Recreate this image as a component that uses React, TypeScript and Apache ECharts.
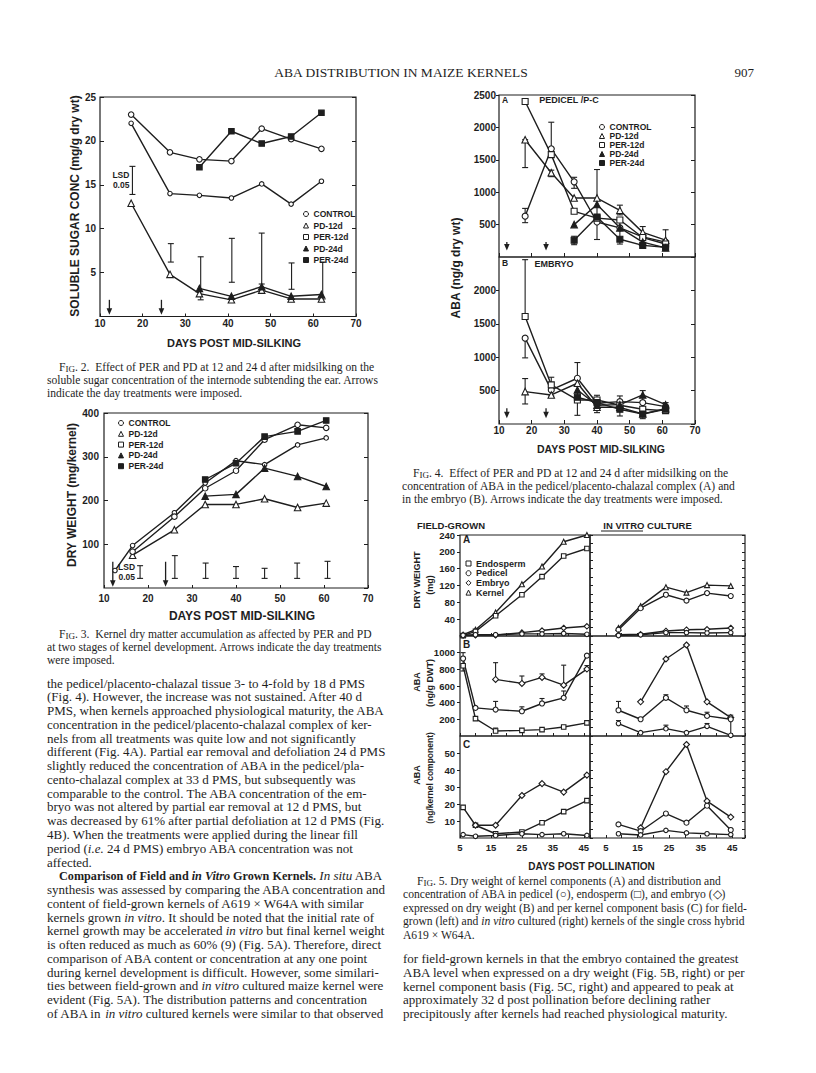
import React, { useEffect, useRef } from "react";
import * as echarts from "echarts";

const W = 816;
const H = 1073;
const INK = "#1e1e1e";
const SANS = "'Liberation Sans', Arial, Helvetica, sans-serif";
const SERIF = "'Liberation Serif', 'Times New Roman', Times, serif";

// ===== Fig. 2 : soluble sugar concentration (mg/g dry wt) =====
const f2Days = [17.3, 26.4, 33.3, 40.8, 47.9, 54.8, 61.9];
const f2Days24 = [33.3, 40.8, 47.9, 54.8, 61.9];
const f2Control = [22.0, 14.0, 13.8, 13.5, 15.1, 12.8, 15.4];
const f2PD12 = [12.9, 4.8, 2.6, 1.9, 3.0, 2.0, 2.0];
const f2PER12 = [23.0, 18.7, 17.9, 17.7, 21.4, 20.2, 19.1];
const f2PD24 = [3.2, 2.3, 3.4, 2.3, 2.5];
const f2PER24 = [17.0, 21.1, 19.7, 20.5, 23.2];
const f2LsdDays = [17.6, 26.6, 33.6, 40.9, 47.9, 54.9, 62.2];
const f2LsdLow = [13.9, 6.2, 1.9, 3.9, 3.7, 3.1, 2.0];
const f2LsdHigh = [17.1, 8.3, 6.8, 8.9, 9.5, 6.1, 6.2];
const f2ArrowDays = [12.2, 24.4];
const f2ArrowSpan = [1.9, 0.2];

// ===== Fig. 3 : kernel dry weight (mg/kernel) =====
const f3ControlDays = [12.5, 16.5, 26, 33, 40, 46.5, 54, 60.5];
const f3Control = [40, 97, 172, 240, 291, 282, 327, 343];
const f3Days = [16.5, 26, 33, 40, 46.5, 54, 60.5];
const f3PD12 = [75, 133, 191, 191, 204, 184, 194];
const f3PER12 = [83, 163, 228, 268, 339, 373, 366];
const f3Days24 = [33, 40, 46.5, 54, 60.5];
const f3PD24 = [210, 214, 274, 255, 232];
const f3PER24 = [248, 285, 346, 358, 383];
const f3LsdDays = [18.2, 26.1, 33.1, 40, 46.5, 53.9, 60.8];
const f3LsdLow = [22, 22, 22, 22, 22, 22, 22];
const f3LsdHigh = [51, 74, 57, 49, 45, 57, 61];
const f3ArrowDays = [12, 24];
const f3ArrowSpan = [60, 3];

// ===== Fig. 4A : ABA pedicel / P-C (ng/g dry wt) =====
const f4aDays = [18, 26, 33, 40, 47, 54, 61];
const f4aDays24 = [33, 40, 47, 54, 61];
const f4aControl = [630, 1670, 1160, 540, 450, 310, 230];
const f4aPD12 = [1810, 1300, 910, 910, 720, 380, 260];
const f4aPER12 = [2400, 1580, 705, 600, 570, 300, 200];
const f4aPD24 = [500, 810, 450, 230, 140];
const f4aPER24 = [258, 617, 274, 180, 150];
const f4aErrDays = [18, 18, 26, 26, 33, 33, 40, 47, 47, 54, 61];
const f4aErrLow = [530, 1380, 1670, 1240, 1060, 190, 270, 650, 200, 300, 130];
const f4aErrHigh = [750, 1810, 2080, 1340, 1230, 320, 1350, 800, 570, 470, 420];
const f4ArrowDays = [12.4, 24.4];
const f4aArrowSpan = [232, 100];

// ===== Fig. 4B : ABA embryo (ng/g dry wt) =====
const f4bDays = [18, 26, 34, 40, 47, 54, 61];
const f4bDays24 = [34, 40, 47, 54, 61];
const f4bControl = [1285, 510, 685, 310, 335, 320, 260];
const f4bPD12 = [485, 435, 610, 250, 250, 150, 230];
const f4bPER12 = [1610, 585, 360, 360, 280, 220, 200];
const f4bPD24 = [510, 280, 290, 435, 290];
const f4bPER24 = [400, 320, 220, 150, 220];
const f4bErrDays = [18, 18, 18, 26, 34, 40, 47, 54, 61];
const f4bErrLow = [1610, 990, 300, 420, 130, 170, 120, 80, 200];
const f4bErrHigh = [2460, 1285, 680, 700, 920, 430, 420, 500, 320];
const f4bArrowSpan = [235, 85];

// ===== Fig. 5 : field-grown (left) and in vitro (right) =====
const f5FieldDays = [6, 10, 16.5, 25, 31.5, 38.5, 46];
const f5VitroDays = [9, 16, 24, 30.5, 37, 44.5];
// A: dry weight (mg)
const f5aFieldKernel = [3, 15, 56, 123, 165, 224, 240];
const f5aFieldEndo = [1, 11, 48, 98, 141, 190, 208];
const f5aFieldEmbryo = [1, 2, 2, 8, 13, 19, 23];
const f5aFieldPedicel = [2, 3, 3, 5, 5, 6, 4];
const f5aVitroKernel = [19, 71, 116, 103, 121, 119];
const f5aVitroEndo = [15, 66, 98, 84, 102, 95];
const f5aVitroEmbryo = [3, 4, 12, 15, 16, 19];
const f5aVitroPedicel = [1, 3, 8, 8, 7, 8];
// B: ABA (ng/g DWT)
const f5bFieldPedicel = [930, 337, 317, 297, 390, 458, 964];
const f5bFieldEndo = [843, 209, 60, 68, 76, 108, 157];
const f5bFieldEmbryoDays = [16.5, 25, 31.5, 38.5, 46];
const f5bFieldEmbryo = [679, 631, 703, 610, 803];
const f5bFieldErrDays = [6, 16.5, 25, 31.5, 38.5, 46, 16.5, 25, 31.5, 38.5, 16.5];
const f5bFieldErrLow = [780, 679, 631, 703, 610, 803, 317, 297, 390, 458, 60];
const f5bFieldErrHigh = [1000, 880, 720, 745, 850, 845, 415, 350, 450, 540, 95];
const f5bVitroEmbryoDays = [16, 24, 30.5, 37, 44.5];
const f5bVitroEmbryo = [410, 924, 1092, 410, 221];
const f5bVitroPedicel = [309, 201, 458, 309, 241, 201];
const f5bVitroEndo = [149, 40, 88, 40, 116, 8];
const f5bVitroErrDays = [9, 24, 30.5, 37, 44.5, 9, 24, 37];
const f5bVitroErrLow = [309, 458, 309, 241, 8, 149, 88, 116];
const f5bVitroErrHigh = [415, 495, 360, 285, 250, 185, 130, 150];
// C: ABA (ng/kernel component)
const f5cFieldEndo = [18, 7.5, 2.5, 3.5, 9, 15.5, 22];
const f5cFieldEmbryoDays = [10, 16.5, 25, 31.5, 38.5, 46];
const f5cFieldEmbryo = [7.5, 7.5, 25, 32, 27, 37];
const f5cFieldPedicel = [2, 1, 1.5, 2.5, 2, 2.5, 1.5];
const f5cVitroEmbryoDays = [16, 24, 30.5, 37, 44.5];
const f5cVitroEmbryo = [6, 39, 55, 21.7, 12.3];
const f5cVitroEndo = [8, 4, 14.4, 9, 19, 4.7];
const f5cVitroPedicel = [2.5, 1.8, 4.5, 3, 2.5, 2];

const treatments = ["CONTROL", "PD-12d", "PER-12d", "PD-24d", "PER-24d"];
const components = ["Endosperm", "Pedicel", "Embryo", "Kernel"];

// ===== Text =====
const header = "ABA DISTRIBUTION IN MAIZE KERNELS";
const pageNo = "907";
const fig2Caption = [
  "F{sc|IG}. 2.  Effect of PER and PD at 12 and 24 d after midsilking on the",
  "soluble sugar concentration of the internode subtending the ear. Arrows",
  "indicate the day treatments were imposed.",
];
const fig3Caption = [
  "F{sc|IG}. 3.  Kernel dry matter accumulation as affected by PER and PD",
  "at two stages of kernel development. Arrows indicate the day treatments",
  "were imposed.",
];
const fig4Caption = [
  "F{sc|IG}. 4.  Effect of PER and PD at 12 and 24 d after midsilking on the",
  "concentration of ABA in the pedicel/placento-chalazal complex (A) and",
  "in the embryo (B). Arrows indicate the day treatments were imposed.",
];
const fig5Caption = [
  "F{sc|IG}. 5. Dry weight of kernel components (A) and distribution and",
  "concentration of ABA in pedicel (○), endosperm (□), and embryo (◇)",
  "expressed on dry weight (B) and per kernel component basis (C) for field-",
  "grown (left) and {i|in vitro} cultured (right) kernels of the single cross hybrid",
  "A619 × W64A.",
];
const leftBody = [
  "the pedicel/placento-chalazal tissue 3- to 4-fold by 18 d PMS",
  "(Fig. 4). However, the increase was not sustained. After 40 d",
  "PMS, when kernels approached physiological maturity, the ABA",
  "concentration in the pedicel/placento-chalazal complex of ker-",
  "nels from all treatments was quite low and not significantly",
  "different (Fig. 4A). Partial ear removal and defoliation 24 d PMS",
  "slightly reduced the concentration of ABA in the pedicel/pla-",
  "cento-chalazal complex at 33 d PMS, but subsequently was",
  "comparable to the control. The ABA concentration of the em-",
  "bryo was not altered by partial ear removal at 12 d PMS, but",
  "was decreased by 61% after partial defoliation at 12 d PMS (Fig.",
  "4B). When the treatments were applied during the linear fill",
  "period ({i|i.e.} 24 d PMS) embryo ABA concentration was not",
  "affected.",
  "{b|Comparison of Field and }{bi|in Vitro}{b| Grown Kernels.} {i|In situ} ABA",
  "synthesis was assessed by comparing the ABA concentration and",
  "content of field-grown kernels of A619 × W64A with similar",
  "kernels grown {i|in vitro}. It should be noted that the initial rate of",
  "kernel growth may be accelerated {i|in vitro} but final kernel weight",
  "is often reduced as much as 60% (9) (Fig. 5A). Therefore, direct",
  "comparison of ABA content or concentration at any one point",
  "during kernel development is difficult. However, some similari-",
  "ties between field-grown and {i|in vitro} cultured maize kernel were",
  "evident (Fig. 5A). The distribution patterns and concentration",
  "of ABA in {i|in vitro} cultured kernels were similar to that observed",
];
const rightBody = [
  "for field-grown kernels in that the embryo contained the greatest",
  "ABA level when expressed on a dry weight (Fig. 5B, right) or per",
  "kernel component basis (Fig. 5C, right) and appeared to peak at",
  "approximately 32 d post pollination before declining rather",
  "precipitously after kernels had reached physiological maturity.",
];

// ===== layout =====
const GRIDS = [
  { left: 100, top: 97, width: 256, height: 219.5 }, // 0 Fig 2
  { left: 104, top: 413, width: 264, height: 175 }, // 1 Fig 3
  { left: 499, top: 95, width: 196, height: 162 }, // 2 Fig 4A
  { left: 499, top: 257, width: 196, height: 167 }, // 3 Fig 4B
  { left: 460, top: 535, width: 130, height: 101 }, // 4 Fig 5A field
  { left: 460, top: 636, width: 130, height: 100 }, // 5 Fig 5B field
  { left: 460, top: 736, width: 130, height: 102 }, // 6 Fig 5C field
  { left: 590, top: 535, width: 155, height: 101 }, // 7 Fig 5A vitro
  { left: 590, top: 636, width: 155, height: 100 }, // 8 Fig 5B vitro
  { left: 590, top: 736, width: 155, height: 102 }, // 9 Fig 5C vitro
];

const tickLine = { color: INK, width: 1 };
const labelFont = (fs: number) => ({ color: INK, fontFamily: SANS, fontWeight: "bold", fontSize: fs });
const plain = (v: number) => String(v);

function xAx(g: number, min: number, max: number, interval: number, o: any = {}) {
  return {
    type: "value", gridIndex: g, min, max, interval,
    axisLine: { show: false }, splitLine: { show: false },
    axisTick: { show: true, inside: true, length: o.tickLen ?? 4, lineStyle: tickLine },
    axisLabel: o.labels
      ? { show: true, ...labelFont(o.fs ?? 10), margin: o.margin ?? 4, formatter: o.fmt ?? plain, showMinLabel: true, showMaxLabel: true }
      : { show: false },
  };
}
function yAx(g: number, min: number, max: number, interval: number, o: any = {}) {
  return {
    type: "value", gridIndex: g, min, max, interval, position: o.right ? "right" : "left",
    axisLine: { show: false }, splitLine: { show: false },
    axisTick: { show: o.ticks ?? true, inside: !o.tickOut, length: o.tickLen ?? 4, lineStyle: tickLine },
    axisLabel: o.labels
      ? { show: true, ...labelFont(o.fs ?? 10), margin: o.margin ?? 4, formatter: plain, showMinLabel: false, showMaxLabel: !o.hideMax }
      : { show: false },
  };
}
const oddFive = (v: number) => (Math.round(v) % 10 === 5 ? String(Math.round(v)) : "");

function pts(xs: number[], ys: number[]) {
  return xs.map((x, i) => [x, ys[i]]);
}
function line(name: string, g: number, xs: number[], ys: number[], symbol: string, filled: boolean, size = 5) {
  return {
    type: "line", name, xAxisIndex: g, yAxisIndex: 2 * g, data: pts(xs, ys),
    symbol, symbolSize: size, showSymbol: true, silent: true, z: 3,
    lineStyle: { color: INK, width: 1.4 },
    itemStyle: { color: filled ? INK : "#ffffff", borderColor: INK, borderWidth: 1.1 },
    emphasis: { disabled: true },
  };
}
function errBars(g: number, xs: number[], lo: number[], hi: number[], o: any = {}) {
  const cap = o.cap ?? 3;
  return {
    type: "custom", xAxisIndex: g, yAxisIndex: 2 * g, silent: true, z: 2,
    data: xs.map((x, i) => [x, lo[i], hi[i]]),
    encode: { x: 0, y: [1, 2] },
    renderItem: (params: any, api: any) => {
      const x = api.value(0);
      const a = api.coord([x, api.value(1)]);
      const b = api.coord([x, api.value(2)]);
      const st = () => ({ stroke: INK, lineWidth: o.lw ?? 1.1, fill: null });
      const children: any[] = [
        { type: "line", shape: { x1: a[0], y1: a[1], x2: b[0], y2: b[1] }, style: st() },
        { type: "line", shape: { x1: a[0] - cap, y1: a[1], x2: a[0] + cap, y2: a[1] }, style: st() },
        { type: "line", shape: { x1: b[0] - cap, y1: b[1], x2: b[0] + cap, y2: b[1] }, style: st() },
      ];
      if (o.label && params.dataIndex === 0) {
        children.push({
          type: "text", x: a[0] - (o.labelGap ?? 4), y: (a[1] + b[1]) / 2,
          style: {
            text: o.label, fill: INK, fontFamily: SANS, fontWeight: "bold", fontSize: o.labelSize ?? 8.5,
            lineHeight: o.labelLH ?? 10, align: "right", verticalAlign: "middle",
          },
        });
      }
      return { type: "group", children };
    },
  };
}
function arrows(g: number, xs: number[], span: number[]) {
  return {
    type: "custom", xAxisIndex: g, yAxisIndex: 2 * g, silent: true, z: 2,
    data: xs.map((x) => [x, span[0], span[1]]),
    encode: { x: 0, y: [1, 2] },
    renderItem: (params: any, api: any) => {
      const x = api.value(0);
      const a = api.coord([x, api.value(1)]);
      const b = api.coord([x, api.value(2)]);
      return {
        type: "group",
        children: [
          { type: "line", shape: { x1: a[0], y1: a[1], x2: b[0], y2: b[1] - 4 }, style: { stroke: INK, lineWidth: 1.3 } },
          { type: "polygon", shape: { points: [[b[0] - 2.8, b[1] - 6.5], [b[0] + 2.8, b[1] - 6.5], [b[0], b[1]]] }, style: { fill: INK } },
        ],
      };
    },
  };
}

function legendItem(name: string, icon: string, filled: boolean) {
  return { name, icon, itemStyle: { color: filled ? INK : "#ffffff", borderColor: INK, borderWidth: 1 } };
}
const treatIcons: [string, boolean][] = [["circle", false], ["triangle", false], ["rect", false], ["triangle", true], ["rect", true]];
function treatLegend(left: number, top: number, lh: number, gap: number, fs: number, icon: number) {
  return {
    show: true, orient: "vertical", left, top, padding: 0, itemGap: gap, itemWidth: icon, itemHeight: icon,
    selectedMode: false,
    textStyle: { fontSize: fs, fontFamily: SANS, fontWeight: "bold", color: INK, lineHeight: lh },
    data: treatments.map((t, i) => legendItem(t, treatIcons[i][0], treatIcons[i][1])),
  };
}

function T(text: string, x: number, y: number, o: any = {}) {
  return {
    type: "text", x, y, rotation: o.rot ?? 0, silent: true, z: 20,
    style: {
      text, fill: INK, fontFamily: o.ff ?? SANS, fontSize: o.fs ?? 10, fontWeight: o.fw ?? "bold",
      fontStyle: o.fst ?? "normal",
      align: o.align ?? "center", verticalAlign: "middle", rich: o.rich, lineHeight: o.lh,
    },
  };
}

const CAP_FS = 11.6;
const BODY_FS = 13;
const BOLD_FS = 12.2;
const capRich = {
  sc: { fontSize: CAP_FS * 0.78, fontFamily: SERIF, fill: INK, verticalAlign: "bottom" },
  i: { fontSize: CAP_FS, fontFamily: SERIF, fontStyle: "italic", fill: INK },
};
const bodyRich = {
  i: { fontSize: BODY_FS, fontFamily: SERIF, fontStyle: "italic", fill: INK },
  b: { fontSize: BOLD_FS, fontFamily: SERIF, fontWeight: "bold", fill: INK },
  bi: { fontSize: BOLD_FS, fontFamily: SERIF, fontWeight: "bold", fontStyle: "italic", fill: INK },
};
const capLine = (text: string, x: number, y: number) =>
  T(text, x, y, { ff: SERIF, fs: CAP_FS, fw: "normal", align: "left", rich: capRich });
const bodyLine = (text: string, x: number, y: number) =>
  T(text, x, y, { ff: SERIF, fs: BODY_FS, fw: "normal", align: "left", rich: bodyRich });

function buildOption() {
  const PI2 = Math.PI / 2;
  const xAxis = [
    xAx(0, 10, 70, 10, { labels: true, margin: 2, fs: 10, tickLen: 3 }),
    xAx(1, 10, 70, 10, { labels: true, margin: 5, fs: 10, tickLen: 3 }),
    xAx(2, 10, 70, 10, {}),
    xAx(3, 10, 70, 10, { labels: true, margin: 1, fs: 10 }),
    xAx(4, 5, 47, 5, { tickLen: 3 }),
    xAx(5, 5, 47, 5, { tickLen: 3 }),
    xAx(6, 5, 47, 5, { labels: true, margin: 4, fs: 9.5, fmt: oddFive, tickLen: 3 }),
    xAx(7, 0, 49, 5, { tickLen: 3 }),
    xAx(8, 0, 49, 5, { tickLen: 3 }),
    xAx(9, 0, 49, 5, { labels: true, margin: 4, fs: 9.5, fmt: oddFive, tickLen: 3 }),
  ];
  const yAxis = [
    yAx(0, 0, 25, 5, { labels: true, margin: 4, fs: 10 }), yAx(0, 0, 25, 5, { right: true }),
    yAx(1, 0, 400, 100, { labels: true, margin: 5, fs: 10 }), yAx(1, 0, 400, 100, { right: true }),
    yAx(2, 0, 2500, 500, { labels: true, margin: 3, fs: 10, tickOut: true, tickLen: 3 }), yAx(2, 0, 2500, 500, { right: true }),
    yAx(3, 0, 2500, 500, { labels: true, margin: 3, fs: 10, tickOut: true, tickLen: 3, hideMax: true }), yAx(3, 0, 2500, 500, { right: true }),
    yAx(4, 0, 240, 40, { labels: true, margin: 5, fs: 9.5, tickOut: true, tickLen: 3 }), yAx(4, 0, 240, 40, { right: true, ticks: false }),
    yAx(5, 0, 1200, 200, { labels: true, margin: 5, fs: 9.5, tickOut: true, tickLen: 3, hideMax: true }), yAx(5, 0, 1200, 200, { right: true, ticks: false }),
    yAx(6, 0, 60, 10, { labels: true, margin: 5, fs: 9.5, tickOut: true, tickLen: 3, hideMax: true }), yAx(6, 0, 60, 10, { right: true, ticks: false }),
    yAx(7, 0, 240, 20, { tickLen: 3 }), yAx(7, 0, 240, 20, { right: true, tickLen: 3 }),
    yAx(8, 0, 1200, 100, { tickLen: 3 }), yAx(8, 0, 1200, 100, { right: true, tickLen: 3 }),
    yAx(9, 0, 60, 5, { tickLen: 3 }), yAx(9, 0, 60, 5, { right: true, tickLen: 3 }),
  ];

  const [C, PD12, PER12, PD24, PER24] = treatments;
  const [ENDO, PED, EMB, KER] = components;
  const series: any[] = [
    // Fig 2
    errBars(0, f2LsdDays, f2LsdLow, f2LsdHigh, { label: "LSD\n0.05", labelGap: 3, cap: 3 }),
    arrows(0, f2ArrowDays, f2ArrowSpan),
    line(C, 0, f2Days, f2Control, "circle", false, 4.5),
    line(PD12, 0, f2Days, f2PD12, "triangle", false, 6.5),
    line(PER12, 0, f2Days, f2PER12, "circle", false, 5.5),
    line(PD24, 0, f2Days24, f2PD24, "triangle", true, 6.5),
    line(PER24, 0, f2Days24, f2PER24, "rect", true, 5.5),
    // Fig 3
    errBars(1, f3LsdDays, f3LsdLow, f3LsdHigh, { label: "LSD\n0.05", labelGap: 5, cap: 3 }),
    arrows(1, f3ArrowDays, f3ArrowSpan),
    line(C, 1, f3ControlDays, f3Control, "circle", false, 4.5),
    line(PD12, 1, f3Days, f3PD12, "triangle", false, 6.5),
    line(PER12, 1, f3Days, f3PER12, "circle", false, 5.5),
    line(PD24, 1, f3Days24, f3PD24, "triangle", true, 6.5),
    line(PER24, 1, f3Days24, f3PER24, "rect", true, 5.5),
    // Fig 4A
    errBars(2, f4aErrDays, f4aErrLow, f4aErrHigh, { cap: 3 }),
    arrows(2, f4ArrowDays, f4aArrowSpan),
    line(C, 2, f4aDays, f4aControl, "circle", false, 6),
    line(PD12, 2, f4aDays, f4aPD12, "triangle", false, 6.5),
    line(PER12, 2, f4aDays, f4aPER12, "rect", false, 6),
    line(PD24, 2, f4aDays24, f4aPD24, "triangle", true, 6.5),
    line(PER24, 2, f4aDays24, f4aPER24, "rect", true, 6),
    // Fig 4B
    errBars(3, f4bErrDays, f4bErrLow, f4bErrHigh, { cap: 3 }),
    arrows(3, f4ArrowDays, f4bArrowSpan),
    line(C, 3, f4bDays, f4bControl, "circle", false, 6),
    line(PD12, 3, f4bDays, f4bPD12, "triangle", false, 6.5),
    line(PER12, 3, f4bDays, f4bPER12, "rect", false, 6),
    line(PD24, 3, f4bDays24, f4bPD24, "triangle", true, 6.5),
    line(PER24, 3, f4bDays24, f4bPER24, "rect", true, 6),
    // Fig 5A
    line(KER, 4, f5FieldDays, f5aFieldKernel, "triangle", false, 5),
    line(ENDO, 4, f5FieldDays, f5aFieldEndo, "rect", false, 4.5),
    line(EMB, 4, f5FieldDays, f5aFieldEmbryo, "diamond", false, 5.5),
    line(PED, 4, f5FieldDays, f5aFieldPedicel, "circle", false, 4.5),
    line(KER, 7, f5VitroDays, f5aVitroKernel, "triangle", false, 5),
    line(ENDO, 7, f5VitroDays, f5aVitroEndo, "circle", false, 5),
    line(EMB, 7, f5VitroDays, f5aVitroEmbryo, "diamond", false, 5.5),
    line(PED, 7, f5VitroDays, f5aVitroPedicel, "circle", false, 4.5),
    // Fig 5B
    errBars(5, f5bFieldErrDays, f5bFieldErrLow, f5bFieldErrHigh, { cap: 2.5 }),
    line(PED, 5, f5FieldDays, f5bFieldPedicel, "circle", false, 5),
    line(ENDO, 5, f5FieldDays, f5bFieldEndo, "rect", false, 4.5),
    line(EMB, 5, f5bFieldEmbryoDays, f5bFieldEmbryo, "diamond", false, 6),
    errBars(8, f5bVitroErrDays, f5bVitroErrLow, f5bVitroErrHigh, { cap: 2.5 }),
    line(EMB, 8, f5bVitroEmbryoDays, f5bVitroEmbryo, "diamond", false, 6),
    line(PED, 8, f5VitroDays, f5bVitroPedicel, "circle", false, 5),
    line(ENDO, 8, f5VitroDays, f5bVitroEndo, "circle", false, 4.5),
    // Fig 5C
    line(ENDO, 6, f5FieldDays, f5cFieldEndo, "rect", false, 4.5),
    line(EMB, 6, f5cFieldEmbryoDays, f5cFieldEmbryo, "diamond", false, 6),
    line(PED, 6, f5FieldDays, f5cFieldPedicel, "circle", false, 4.5),
    line(EMB, 9, f5cVitroEmbryoDays, f5cVitroEmbryo, "diamond", false, 6),
    line(ENDO, 9, f5VitroDays, f5cVitroEndo, "circle", false, 5),
    line(PED, 9, f5VitroDays, f5cVitroPedicel, "circle", false, 4.5),
  ];

  const legend: any[] = [
    treatLegend(303, 209.5, 9, 2.5, 8.5, 5),
    treatLegend(118, 418.5, 9, 1.8, 8.5, 5),
    treatLegend(599, 122.5, 8, 0, 8.5, 5),
    {
      show: true, orient: "vertical", left: 465.5, top: 559, padding: 0, itemGap: 0.7, itemWidth: 5, itemHeight: 5,
      selectedMode: false,
      textStyle: { fontSize: 9, fontFamily: SANS, fontWeight: "bold", color: INK, lineHeight: 8.5 },
      data: [
        legendItem(ENDO, "rect", false),
        legendItem(PED, "circle", false),
        legendItem(EMB, "diamond", false),
        legendItem(KER, "triangle", false),
      ],
    },
  ];

  const graphic: any[] = [
    T(header, 401, 72, { ff: SERIF, fs: 13.5, fw: "normal" }),
    T(pageNo, 754, 72, { ff: SERIF, fs: 13, fw: "normal", align: "right" }),
    // Fig 2 titles
    T("SOLUBLE SUGAR CONC (mg/g dry wt)", 75, 206, { rot: PI2, fs: 12 }),
    T("DAYS POST MID-SILKING", 234, 343, { fs: 11 }),
    // Fig 3 titles
    T("DRY WEIGHT (mg/kernel)", 72, 495, { rot: PI2, fs: 12 }),
    T("DAYS POST MID-SILKING", 242, 616, { fs: 12 }),
    // Fig 4
    T("ABA (ng/g dry wt)", 456, 268, { rot: PI2, fs: 12 }),
    T("DAYS POST MID-SILKING", 601, 449, { fs: 10.5 }),
    T("A", 502, 100, { fs: 8.5, align: "left" }),
    T("PEDICEL /P-C", 569, 100, { fs: 9 }),
    T("B", 502, 263, { fs: 8.5, align: "left" }),
    T("EMBRYO", 554, 264, { fs: 9 }),
    // Fig 5
    T("FIELD-GROWN", 451, 525, { fs: 9.5 }),
    T("IN VITRO CULTURE", 647.5, 525, { fs: 9.5 }),
    { type: "line", silent: true, z: 20, shape: { x1: 601, y1: 531, x2: 643, y2: 531 }, style: { stroke: INK, lineWidth: 1 } },
    T("A", 463, 539, { fs: 10, align: "left" }),
    T("B", 463, 644, { fs: 10, align: "left" }),
    T("C", 463, 744, { fs: 10, align: "left" }),
    T("DRY WEIGHT", 417, 580, { rot: PI2, fs: 9 }),
    T("(mg)", 430, 585, { rot: PI2, fs: 9 }),
    T("ABA", 417, 682, { rot: PI2, fs: 9 }),
    T("(ng/g DWT)", 430, 683, { rot: PI2, fs: 9 }),
    T("ABA", 417, 775, { rot: PI2, fs: 9 }),
    T("(ng/kernel component)", 430, 778, { rot: PI2, fs: 8.5 }),
    T("DAYS POST POLLINATION", 591.5, 866, { fs: 10 }),
  ];
  // captions
  const fig2Y = [367, 380, 393];
  fig2Caption.forEach((t, i) => graphic.push(capLine(t, i === 0 ? 59 : 47, fig2Y[i])));
  const fig3Y = [634, 647, 660];
  fig3Caption.forEach((t, i) => graphic.push(capLine(t, i === 0 ? 59 : 47, fig3Y[i])));
  const fig4Y = [473.5, 486.5, 499.5];
  fig4Caption.forEach((t, i) => graphic.push(capLine(t, i === 0 ? 413 : 402, fig4Y[i])));
  const fig5Y = [881, 894.5, 908, 921.5, 935];
  fig5Caption.forEach((t, i) => graphic.push(capLine(t, i === 0 ? 417 : 403, fig5Y[i])));
  // body
  const LH = 13.77;
  leftBody.forEach((t, i) => graphic.push(bodyLine(t, i === 14 ? 59 : 47, 683 + LH * i)));
  rightBody.forEach((t, i) => graphic.push(bodyLine(t, 403, 958.5 + LH * i)));

  return {
    animation: false,
    backgroundColor: "#ffffff",
    textStyle: { fontFamily: SANS },
    grid: GRIDS.map((g) => ({ ...g, show: true, borderColor: INK, borderWidth: 1.2, backgroundColor: "transparent", containLabel: false })),
    xAxis,
    yAxis,
    legend,
    series,
    graphic,
  };
}

export default function App() {
  const ref = useRef<HTMLDivElement>(null);
  useEffect(() => {
    const el = ref.current;
    if (!el) return;
    const chart = echarts.init(el, null, { renderer: "svg", width: W, height: H });
    chart.setOption(buildOption() as any);
    return () => chart.dispose();
  }, []);
  return (
    <div
      ref={ref}
      style={{ position: "absolute", left: 0, top: 0, width: W, height: H, background: "#ffffff" }}
    />
  );
}
